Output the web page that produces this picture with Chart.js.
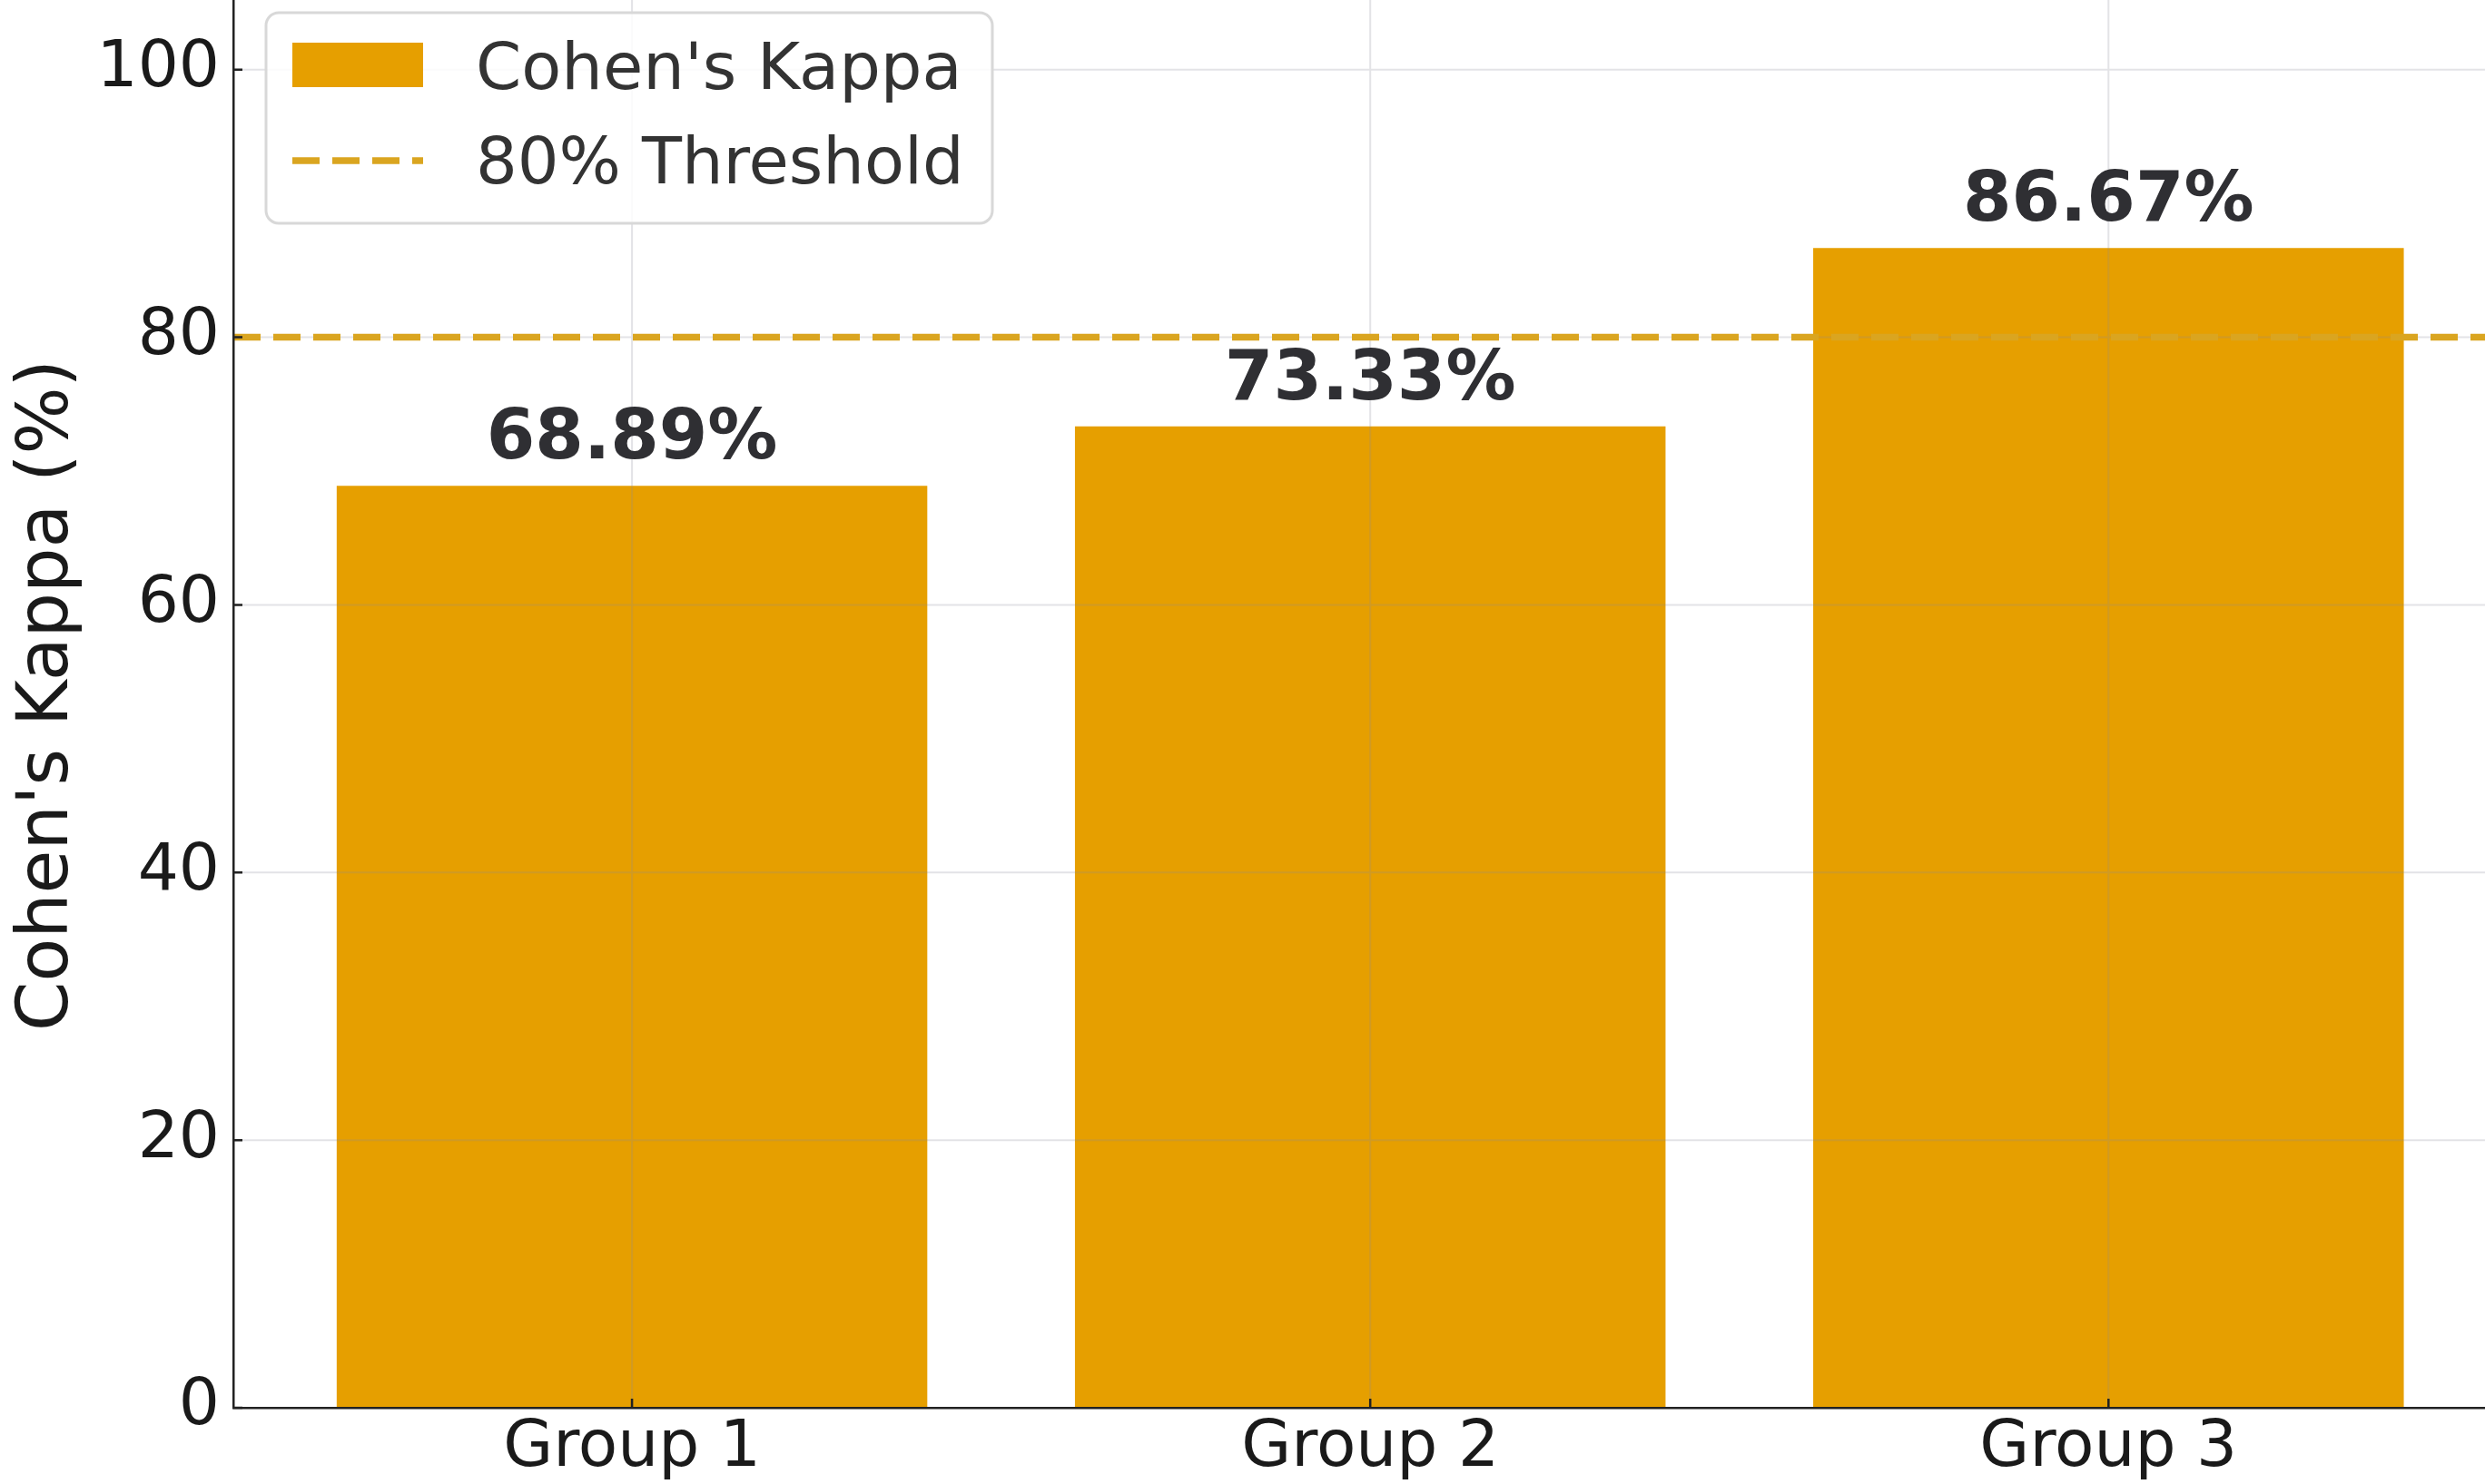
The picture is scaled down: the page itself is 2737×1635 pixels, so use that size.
<!DOCTYPE html>
<html>
<head>
<meta charset="utf-8">
<script src="https://cdn.jsdelivr.net/npm/chart.js@4/dist/chart.umd.min.js"></script>
<style>
html,body{margin:0;padding:0;background:#fff;overflow:hidden}
#wrap{position:relative;width:2737px;height:1635px}
</style>
</head>
<body>
<div id="wrap"><canvas id="c"></canvas></div>
<script>
// ---- data ----
const categories = ['Group 1', 'Group 2', 'Group 3'];
const kappaValues = [68.89, 73.33, 86.67];
const thresholdValue = 80;
const yTickValues = [0, 20, 40, 60, 80, 100];
const seriesNames = ["Cohen's Kappa", '80% Threshold'];
const yAxisTitle = "Cohen's Kappa (%)";

// ---- axis limits ----
const X_MIN = -0.54, X_MAX = 2.51, Y_MIN = 0, Y_MAX = 105.2;

// ---- style ----
const BAR_COLOR = '#E69F00';
const LINE_COLOR = '#DAA520';
const FONT = "'DejaVu Sans', 'Liberation Sans', sans-serif";
const GRID_COLOR = 'rgba(140,140,150,0.24)';
const AXIS_COLOR = '#222';

Chart.defaults.font.family = FONT;

const gridPlugin = {
  id: 'gridBetween',
  beforeDatasetDraw(chart, args) {
    if (args.index !== 1) return;
    const {ctx, chartArea: a, scales: {x, y}} = chart;
    ctx.save();
    ctx.strokeStyle = GRID_COLOR;
    ctx.lineWidth = 2;
    ctx.beginPath();
    yTickValues.forEach(v => {
      const p = y.getPixelForValue(v);
      ctx.moveTo(a.left, p); ctx.lineTo(a.right, p);
    });
    categories.forEach((c, i) => {
      const p = x.getPixelForValue(i);
      ctx.moveTo(p, a.top); ctx.lineTo(p, a.bottom);
    });
    ctx.stroke();
    ctx.restore();
  }
};

const decorPlugin = {
  id: 'decor',
  afterDatasetsDraw(chart) {
    const {ctx, chartArea: a, scales: {x, y}} = chart;
    ctx.save();
    // inward tick marks
    ctx.strokeStyle = AXIS_COLOR;
    ctx.lineWidth = 2.5;
    ctx.beginPath();
    yTickValues.forEach(v => {
      const p = y.getPixelForValue(v);
      ctx.moveTo(a.left, p); ctx.lineTo(a.left + 10, p);
    });
    categories.forEach((c, i) => {
      const p = x.getPixelForValue(i);
      ctx.moveTo(p, a.bottom); ctx.lineTo(p, a.bottom - 10);
    });
    ctx.stroke();
    // value labels
    ctx.fillStyle = '#2f2f33';
    ctx.font = "bold 77px " + FONT;
    ctx.textAlign = 'center';
    ctx.textBaseline = 'alphabetic';
    kappaValues.forEach((v, i) => {
      ctx.fillText(v.toFixed(2) + '%', x.getPixelForValue(i), y.getPixelForValue(v) - 30);
    });
    ctx.restore();
  },
  afterDraw(chart) {
    const ctx = chart.ctx;
    ctx.save();
    // y axis title
    ctx.translate(54, 766);
    ctx.rotate(-Math.PI / 2);
    ctx.fillStyle = '#1a1a1a';
    ctx.font = "78px " + FONT;
    ctx.textAlign = 'center';
    ctx.textBaseline = 'middle';
    ctx.fillText(yAxisTitle, 0, 0);
    ctx.restore();

    ctx.save();
    // legend frame
    const bx = 293, by = 14, bw = 800, bh = 232, r = 14;
    ctx.beginPath();
    ctx.moveTo(bx + r, by);
    ctx.arcTo(bx + bw, by, bx + bw, by + bh, r);
    ctx.arcTo(bx + bw, by + bh, bx, by + bh, r);
    ctx.arcTo(bx, by + bh, bx, by, r);
    ctx.arcTo(bx, by, bx + bw, by, r);
    ctx.closePath();
    ctx.fillStyle = 'rgba(255,255,255,0.85)';
    ctx.fill();
    ctx.strokeStyle = '#d8d8d8';
    ctx.lineWidth = 3;
    ctx.stroke();
    // swatches
    ctx.fillStyle = BAR_COLOR;
    ctx.fillRect(322, 47, 144, 49);
    ctx.strokeStyle = LINE_COLOR;
    ctx.lineWidth = 7.5;
    ctx.setLineDash([30, 14]);
    ctx.beginPath();
    ctx.moveTo(322, 177); ctx.lineTo(466, 177);
    ctx.stroke();
    ctx.setLineDash([]);
    // texts
    ctx.fillStyle = '#333';
    ctx.font = "72px " + FONT;
    ctx.textAlign = 'left';
    ctx.textBaseline = 'alphabetic';
    ctx.fillText(seriesNames[0], 524, 98);
    ctx.fillText(seriesNames[1], 524, 202);
    ctx.restore();
  }
};

new Chart(document.getElementById('c'), {
  type: 'bar',
  data: {
    datasets: [
      {
        type: 'bar',
        label: seriesNames[0],
        data: kappaValues.map((v, i) => ({x: i, y: v})),
        backgroundColor: BAR_COLOR,
        borderWidth: 0,
        barPercentage: 0.8,
        categoryPercentage: 1.0,
        order: 2
      },
      {
        type: 'line',
        label: seriesNames[1],
        data: [{x: X_MIN, y: thresholdValue}, {x: X_MAX, y: thresholdValue}],
        borderColor: LINE_COLOR,
        borderWidth: 7.5,
        borderDash: [30, 14],
        pointRadius: 0,
        fill: false,
        tension: 0,
        order: 1
      }
    ]
  },
  options: {
    responsive: true,
    maintainAspectRatio: false,
    animation: false,
    devicePixelRatio: 1,
    layout: {padding: 0},
    plugins: {legend: {display: false}, tooltip: {enabled: false}},
    scales: {
      x: {
        type: 'linear',
        min: X_MIN, max: X_MAX,
        offset: false,
        grid: {display: false},
        border: {display: true, color: AXIS_COLOR, width: 2.5, z: 1},
        afterBuildTicks(s) { s.ticks = categories.map((c, i) => ({value: i})); },
        ticks: {
          autoSkip: false,
          maxRotation: 0,
          padding: -5,
          color: '#1a1a1a',
          font: {size: 71},
          callback: v => categories[v] ?? ''
        },
        afterFit(s) { s.height = 84; s.paddingLeft = 0; s.paddingRight = 0; }
      },
      y: {
        type: 'linear',
        min: Y_MIN, max: Y_MAX,
        grid: {display: false},
        border: {display: true, color: AXIS_COLOR, width: 2.5, z: 1},
        afterBuildTicks(s) { s.ticks = yTickValues.map(v => ({value: v})); },
        ticks: {
          padding: 7,
          color: '#1a1a1a',
          font: {size: 71},
          callback: v => String(v)
        },
        afterFit(s) { s.width = 257; s.paddingTop = 0; s.paddingBottom = 0; }
      }
    }
  },
  plugins: [gridPlugin, decorPlugin]
});
</script>
</body>
</html>
